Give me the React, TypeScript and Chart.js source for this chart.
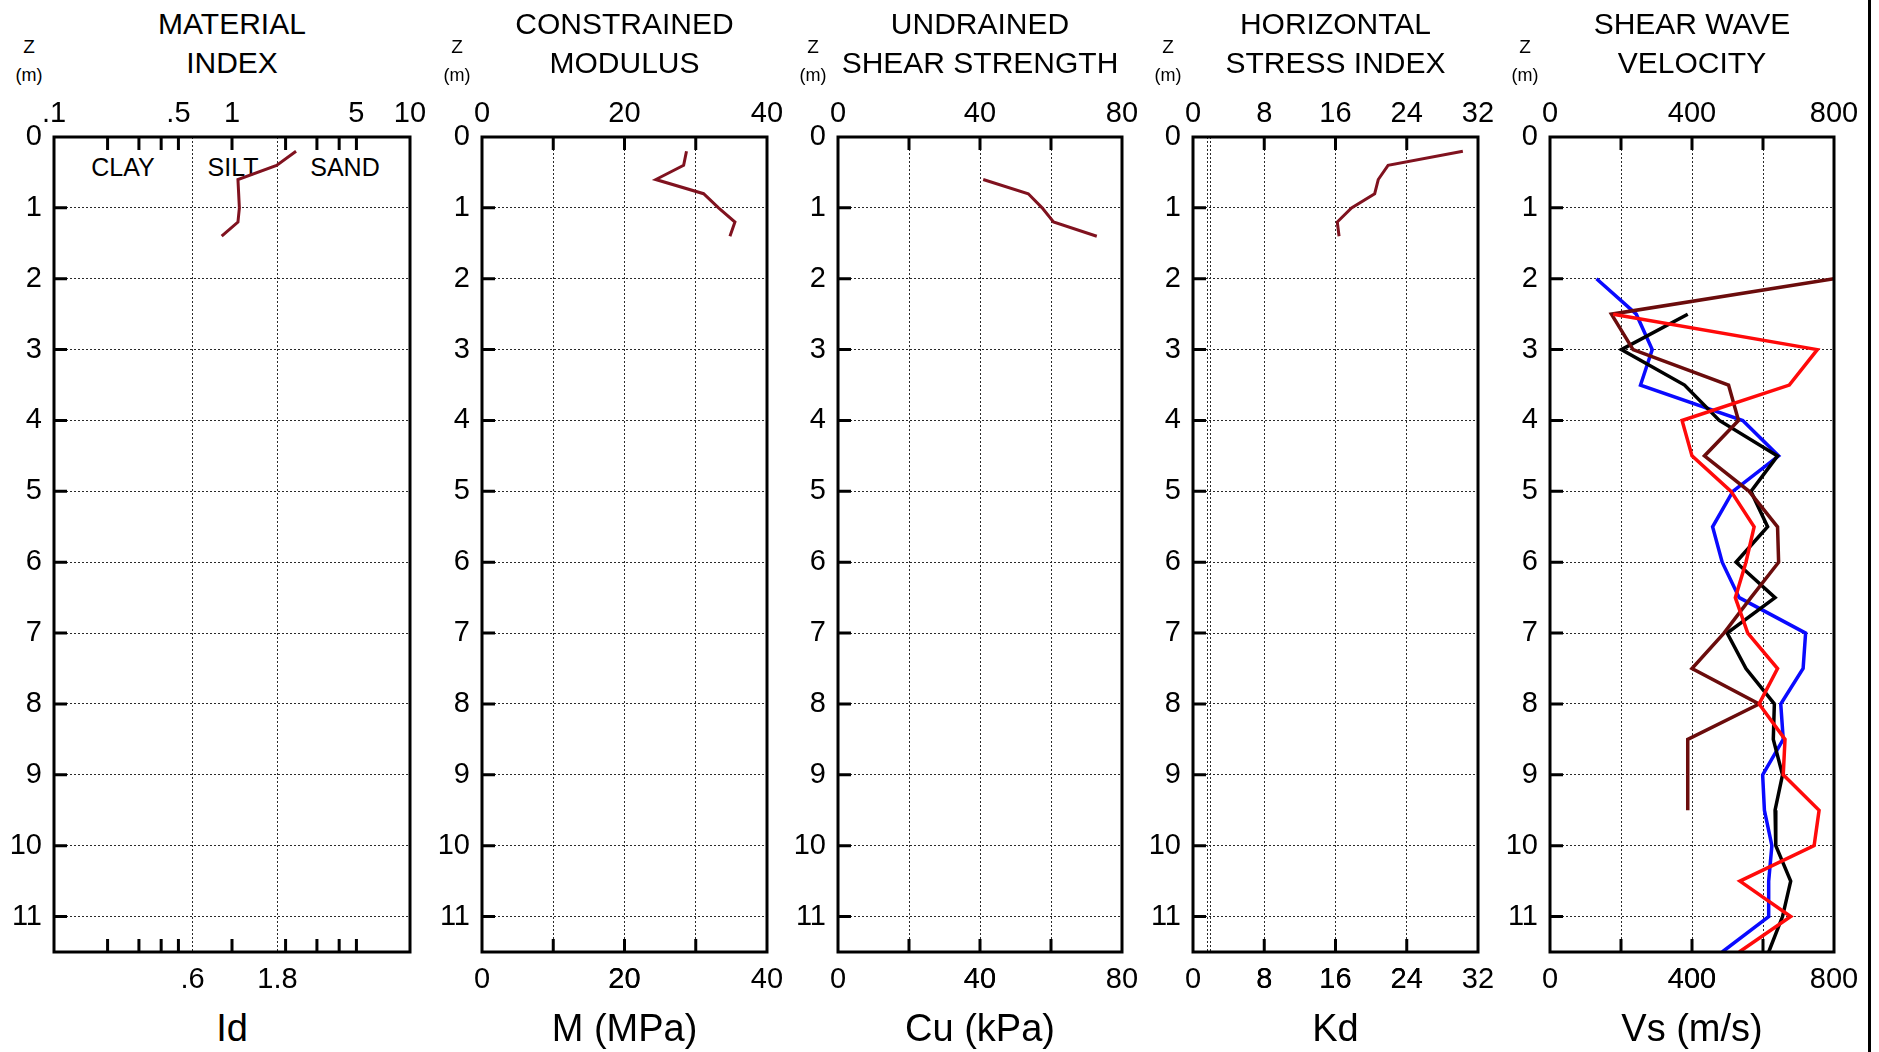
import React, { useEffect, useRef } from 'react';
import { Chart, registerables } from 'chart.js';

Chart.register(...registerables);

const FONT = "'Liberation Sans', Arial, Helvetica, sans-serif";

// ---------------- DATA ----------------
const zTickValues = [0, 1, 2, 3, 4, 5, 6, 7, 8, 9, 10, 11];

// Material index Id (log scale)
const idDepths = [0.2, 0.4, 0.6, 0.8, 1.0, 1.2, 1.4];
const idValues = [2.29, 1.78, 1.08, 1.09, 1.1, 1.08, 0.875];

// Constrained modulus M (MPa)
const mDepths = [0.2, 0.4, 0.6, 0.8, 1.0, 1.2, 1.4];
const mValues = [28.7, 28.3, 24.4, 31.1, 33.2, 35.5, 34.8];

// Undrained shear strength Cu (kPa)
const cuDepths = [0.6, 0.8, 1.0, 1.2, 1.4];
const cuValues = [40.9, 53.6, 57.5, 60.7, 72.9];

// Horizontal stress index Kd
const kdDepths = [0.2, 0.4, 0.6, 0.8, 1.0, 1.2, 1.4];
const kdValues = [30.3, 21.9, 20.8, 20.4, 17.8, 16.2, 16.4];

// Shear wave velocity Vs (m/s), four profiles
const vsRedDepths = [2.5, 3, 3.5, 4, 4.5, 5, 5.5, 6, 6.5, 7, 7.5, 8, 8.5, 9, 9.5, 10, 10.5, 11, 11.5];
const vsRedValues = [178, 753, 674, 372, 400, 510, 575, 552, 522, 557, 641, 589, 662, 657, 758, 744, 535, 678, 533];

const vsBrownDepths = [2, 2.5, 3, 3.5, 4, 4.5, 5, 5.5, 6, 6.5, 7, 7.5, 8, 8.5, 9, 9.5];
const vsBrownValues = [800, 173, 234, 503, 531, 435, 561, 641, 644, 566, 490, 400, 589, 388, 388, 388];

const vsBlackDepths = [2.5, 3, 3.5, 4, 4.5, 5, 5.5, 6, 6.5, 7, 7.5, 8, 8.5, 9, 9.5, 10, 10.5, 11, 11.5];
const vsBlackValues = [388, 201, 379, 477, 641, 566, 613, 524, 634, 499, 552, 632, 629, 655, 634, 636, 678, 655, 616];

const vsBlueDepths = [2, 2.5, 3, 3.5, 4, 4.5, 5, 5.5, 6, 6.5, 7, 7.5, 8, 8.5, 9, 9.5, 10, 10.5, 11, 11.5];
const vsBlueValues = [131, 243, 288, 255, 543, 644, 515, 458, 485, 533, 720, 713, 650, 657, 599, 604, 625, 616, 616, 485];

// Axis tick labels
const idTopTicks = [0.1, 0.5, 1, 5, 10];
const idBottomTicks = [0.6, 1.8];
const idMinorTicks = [0.2, 0.3, 0.4, 0.5, 1, 2, 3, 4, 5];
const mLabelTicks = [0, 20, 40];
const mGridTicks = [10, 20, 30];
const cuLabelTicks = [0, 40, 80];
const cuGridTicks = [20, 40, 60];
const kdLabelTicks = [0, 8, 16, 24, 32];
const kdGridTicks = [1.6, 2, 8, 16, 24];
const kdMarkTicks = [8, 16, 24];
const vsLabelTicks = [0, 400, 800];
const vsGridTicks = [200, 400, 600];

// ---------------- LAYOUT ----------------
const PAGE_W = 1879;
const PAGE_H = 1052;
const PLOT_TOP = 137;
const PLOT_BOTTOM = 952;
const LEFT_W = 54;
const RIGHT_PAD = 40;
const TICK_FONT = 29;
const GRID_COLOR = '#2a2a2a';
const MAROON = '#80121f';

type Series = { depths: number[]; values: number[]; color: string };
type PanelCfg = {
  key: string;
  plotLeft: number;
  plotWidth: number;
  xType: 'linear' | 'logarithmic';
  min: number;
  max: number;
  topTicks: number[];
  bottomTicks: number[];
  bottomLabels: number[];
  markTicks: number[];
  title: string[];
  axisTitle: string;
  lineWidth: number;
  series: Series[];
};

const fmt = (v: number) => {
  if (v > 0 && v < 1) return String(v).replace(/^0/, '');
  return String(v);
};

const panels: PanelCfg[] = [
  {
    key: 'id', plotLeft: 54, plotWidth: 356, xType: 'logarithmic', min: 0.1, max: 10,
    topTicks: idTopTicks, bottomTicks: idBottomTicks, bottomLabels: idBottomTicks, markTicks: idMinorTicks,
    title: ['MATERIAL', 'INDEX'], axisTitle: 'Id', lineWidth: 3,
    series: [{ depths: idDepths, values: idValues, color: MAROON }],
  },
  {
    key: 'm', plotLeft: 482, plotWidth: 285, xType: 'linear', min: 0, max: 40,
    topTicks: mLabelTicks, bottomTicks: [...mLabelTicks, ...mGridTicks], bottomLabels: mLabelTicks, markTicks: mGridTicks,
    title: ['CONSTRAINED', 'MODULUS'], axisTitle: 'M (MPa)', lineWidth: 3,
    series: [{ depths: mDepths, values: mValues, color: MAROON }],
  },
  {
    key: 'cu', plotLeft: 838, plotWidth: 284, xType: 'linear', min: 0, max: 80,
    topTicks: cuLabelTicks, bottomTicks: [...cuLabelTicks, ...cuGridTicks], bottomLabels: cuLabelTicks, markTicks: cuGridTicks,
    title: ['UNDRAINED', 'SHEAR STRENGTH'], axisTitle: 'Cu (kPa)', lineWidth: 3,
    series: [{ depths: cuDepths, values: cuValues, color: MAROON }],
  },
  {
    key: 'kd', plotLeft: 1193, plotWidth: 285, xType: 'linear', min: 0, max: 32,
    topTicks: kdLabelTicks, bottomTicks: [...kdLabelTicks, ...kdGridTicks], bottomLabels: kdLabelTicks, markTicks: kdMarkTicks,
    title: ['HORIZONTAL', 'STRESS INDEX'], axisTitle: 'Kd', lineWidth: 3,
    series: [{ depths: kdDepths, values: kdValues, color: MAROON }],
  },
  {
    key: 'vs', plotLeft: 1550, plotWidth: 284, xType: 'linear', min: 0, max: 800,
    topTicks: vsLabelTicks, bottomTicks: [...vsLabelTicks, ...vsGridTicks], bottomLabels: vsLabelTicks, markTicks: vsGridTicks,
    title: ['SHEAR WAVE', 'VELOCITY'], axisTitle: 'Vs (m/s)', lineWidth: 3.5,
    series: [
      { depths: vsRedDepths, values: vsRedValues, color: '#ff0a0a' },
      { depths: vsBrownDepths, values: vsBrownValues, color: '#6b0c0c' },
      { depths: vsBlackDepths, values: vsBlackValues, color: '#000000' },
      { depths: vsBlueDepths, values: vsBlueValues, color: '#0a0aff' },
    ],
  },
];

function makeFramePlugin(cfg: PanelCfg) {
  return {
    id: 'frame_' + cfg.key,
    afterDatasetsDraw(chart: any) {
      const { ctx, chartArea } = chart;
      const { left, top, right, bottom } = chartArea;
      const xs = chart.scales.x;
      const ys = chart.scales.y;
      ctx.save();
      ctx.strokeStyle = '#000';
      ctx.lineWidth = 3;
      ctx.setLineDash([]);
      ctx.beginPath();
      const L = 13;
      for (const v of cfg.markTicks) {
        const px = xs.getPixelForValue(v);
        ctx.moveTo(px, top);
        ctx.lineTo(px, top + L);
        ctx.moveTo(px, bottom);
        ctx.lineTo(px, bottom - L);
      }
      for (const v of zTickValues) {
        if (v === 0) continue;
        const py = ys.getPixelForValue(v);
        ctx.moveTo(left, py);
        ctx.lineTo(left + L, py);
      }
      ctx.stroke();
      ctx.strokeRect(left, top, right - left, bottom - top);
      ctx.restore();
    },
  };
}

function Panel({ cfg }: { cfg: PanelCfg }) {
  const ref = useRef<HTMLCanvasElement>(null);
  useEffect(() => {
    const canvas = ref.current!;
    const tickFont = { family: FONT, size: TICK_FONT };
    const chart = new Chart(canvas, {
      type: 'scatter',
      data: {
        datasets: cfg.series.map((s) => ({
          data: s.depths.map((d, i) => ({ x: s.values[i], y: d })),
          showLine: true,
          borderColor: s.color,
          backgroundColor: s.color,
          borderWidth: cfg.lineWidth,
          pointRadius: 0,
          pointHoverRadius: 0,
          tension: 0,
          fill: false,
          xAxisID: 'x',
          yAxisID: 'y',
        })),
      },
      options: {
        responsive: false,
        maintainAspectRatio: false,
        animation: false,
        events: [],
        layout: { padding: { left: 0, right: RIGHT_PAD, top: 0, bottom: 0 } },
        plugins: {
          legend: { display: false },
          tooltip: { enabled: false },
          title: { display: false },
        },
        scales: {
          x: {
            type: cfg.xType,
            position: 'bottom',
            min: cfg.min,
            max: cfg.max,
            afterBuildTicks: (s: any) => {
              s.ticks = cfg.bottomTicks.map((v) => ({ value: v }));
            },
            afterFit: (s: any) => {
              s.height = PAGE_H - PLOT_BOTTOM;
            },
            ticks: {
              autoSkip: false,
              maxRotation: 0,
              minRotation: 0,
              padding: 10.6,
              color: '#000',
              font: tickFont,
              callback: (v: any) => (cfg.bottomLabels.includes(Number(v)) ? fmt(Number(v)) : ''),
            },
            grid: { display: true, drawTicks: false, color: GRID_COLOR, lineWidth: 1 },
            border: { display: false, dash: [2, 2] },
          },
          xTop: {
            type: cfg.xType,
            position: 'top',
            min: cfg.min,
            max: cfg.max,
            afterBuildTicks: (s: any) => {
              s.ticks = cfg.topTicks.map((v) => ({ value: v }));
            },
            afterFit: (s: any) => {
              s.height = PLOT_TOP;
            },
            ticks: {
              autoSkip: false,
              maxRotation: 0,
              minRotation: 0,
              padding: 6,
              color: '#000',
              font: tickFont,
              callback: (v: any) => fmt(Number(v)),
            },
            grid: { display: false, drawTicks: false },
            border: { display: false },
          },
          y: {
            type: 'linear',
            position: 'left',
            reverse: true,
            min: 0,
            max: 11.5,
            afterBuildTicks: (s: any) => {
              s.ticks = zTickValues.map((v) => ({ value: v }));
            },
            afterFit: (s: any) => {
              s.width = LEFT_W;
            },
            ticks: {
              autoSkip: false,
              padding: 12,
              color: '#000',
              font: tickFont,
              callback: (v: any) => String(v),
            },
            grid: { display: true, drawTicks: false, color: GRID_COLOR, lineWidth: 1 },
            border: { display: false, dash: [2, 2] },
          },
        },
      } as any,
      plugins: [makeFramePlugin(cfg)],
    });
    return () => chart.destroy();
  }, [cfg]);

  const w = cfg.plotWidth + LEFT_W + RIGHT_PAD;
  return (
    <canvas
      ref={ref}
      width={w}
      height={PAGE_H}
      style={{ position: 'absolute', left: cfg.plotLeft - LEFT_W, top: 0, width: w, height: PAGE_H }}
    />
  );
}

function Label({ cx, cy, size, lh, text }: { cx: number; cy: number; size: number; lh: number; text: string }) {
  return (
    <div
      style={{
        position: 'absolute',
        left: cx - 200,
        width: 400,
        top: cy - lh / 2,
        height: lh,
        lineHeight: lh + 'px',
        fontSize: size,
        fontFamily: FONT,
        textAlign: 'center',
        whiteSpace: 'nowrap',
        color: '#000',
      }}
    >
      {text}
    </div>
  );
}

export default function App() {
  return (
    <div
      style={{
        position: 'absolute',
        left: 0,
        top: 0,
        width: PAGE_W,
        height: PAGE_H,
        overflow: 'hidden',
        background: '#fff',
      }}
    >
      {/* zone labels under the canvas */}
      <Label cx={123} cy={167} size={25} lh={30} text="CLAY" />
      <Label cx={233} cy={167} size={25} lh={30} text="SILT" />
      <Label cx={345} cy={167} size={25} lh={30} text="SAND" />
      {panels.map((p) => {
        const cx = p.plotLeft + p.plotWidth / 2;
        return (
          <React.Fragment key={p.key}>
            <Label cx={cx} cy={24} size={30} lh={38} text={p.title[0]} />
            <Label cx={cx} cy={63} size={30} lh={38} text={p.title[1]} />
            <Label cx={p.plotLeft - 25} cy={47} size={19} lh={22} text="Z" />
            <Label cx={p.plotLeft - 25} cy={75} size={18} lh={22} text="(m)" />
            <Label cx={cx} cy={1028} size={38} lh={46} text={p.axisTitle} />
            <Panel cfg={p} />
          </React.Fragment>
        );
      })}
      <div style={{ position: 'absolute', left: 1868, top: 0, width: 3, height: PAGE_H, background: '#000' }} />
    </div>
  );
}
